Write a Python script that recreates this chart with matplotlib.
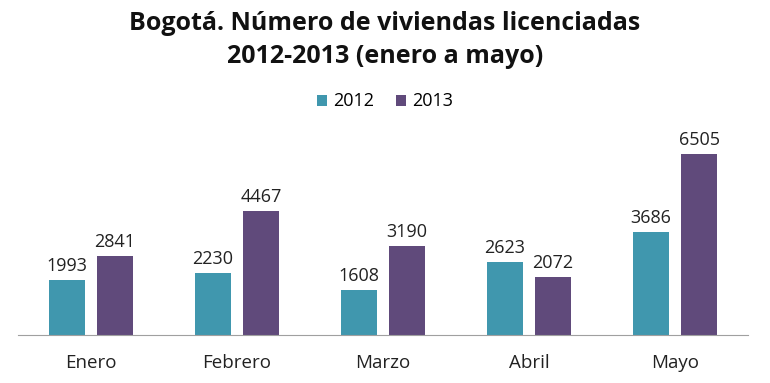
import numpy as np
import matplotlib.pyplot as plt

meses = ['Enero', 'Febrero', 'Marzo', 'Abril', 'Mayo']
v2012 = [1993, 2230, 1608, 2623, 3686]
v2013 = [2841, 4467, 3190, 2072, 6505]

c2012 = '#4097ae'
c2013 = '#604a7b'

fig = plt.figure(figsize=(7.7, 3.83), dpi=100)
ax = fig.add_axes([0.0234, 0.1253, 0.948, 0.5086])

x = np.arange(len(meses))
w = 0.25
b1 = ax.bar(x - 0.165, v2012, w, color=c2012, label='2012')
b2 = ax.bar(x + 0.165, v2013, w, color=c2013, label='2013')

for bars in (b1, b2):
    for r in bars:
        ax.text(r.get_x() + r.get_width() / 2, r.get_height() + 180, str(int(r.get_height())),
                ha='center', va='bottom', fontsize=13, family='Open Sans', color='#222222')

ax.set_xlim(-0.5, 4.5)
ax.set_ylim(0, 7000)
ax.set_xticks(x)
ax.set_xticklabels(meses, fontsize=13.5, family='Open Sans', color='#222222')
ax.tick_params(axis='x', length=0, pad=14)
ax.set_yticks([])
for s in ['top', 'right', 'left']:
    ax.spines[s].set_visible(False)
ax.spines['bottom'].set_color('#a0a0a0')

fig.text(0.5, 0.895, 'Bogotá. Número de viviendas licenciadas\n2012-2013 (enero a mayo)',
         ha='center', va='center', fontsize=18, fontweight='bold', family='Open Sans',
         linespacing=1.45, color='#111111')

fig.legend(handles=[b1, b2], loc='center', bbox_to_anchor=(0.5, 0.735), ncol=2, frameon=False,
           prop={'family': 'Open Sans', 'size': 13}, handlelength=0.55, handleheight=0.55,
           columnspacing=1.2, handletextpad=0.35)

fig.savefig('out.png', dpi=100)
